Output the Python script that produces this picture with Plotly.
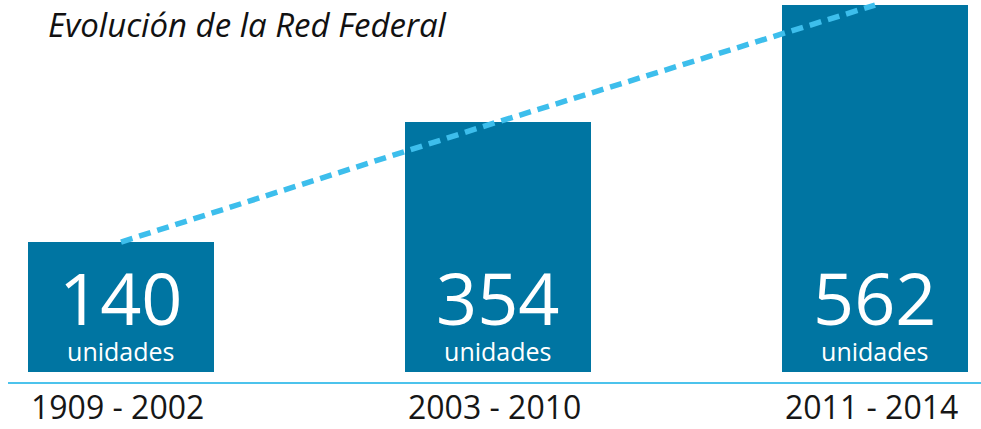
import plotly.graph_objects as go

# Data
periods = ["1909 - 2002", "2003 - 2010", "2011 - 2014"]
units = [140, 354, 562]
unit_label = "unidades"
title_text = "Evolución de la Red Federal"

BAR_COLOR = "#0075A2"
TREND_COLOR = "#3DBEEC"
AXIS_COLOR = "#4CC3EC"
BASE_VALUE = -91.5  # bars rise from this value on the y scale

x_pos = list(range(len(periods)))

fig = go.Figure()

fig.add_trace(go.Bar(
    x=x_pos,
    y=[v - BASE_VALUE for v in units],
    base=BASE_VALUE,
    width=0.493,
    marker=dict(color=BAR_COLOR, line=dict(width=0)),
    hoverinfo="skip",
    showlegend=False,
))

# Dashed growth line joining the top of each bar
fig.add_trace(go.Scatter(
    x=x_pos,
    y=units,
    mode="lines",
    line=dict(color=TREND_COLOR, width=5.5, dash="12px,7px"),
    hoverinfo="skip",
    showlegend=False,
))

annotations = []
for i, (p, v) in enumerate(zip(periods, units)):
    # value and unit stacked in one label inside the bar
    annotations.append(dict(
        x=i, y=0.283, xref="x", yref="paper",
        text=(f"<span style='font-size:72px'>{v}</span><br>"
              f"<span style='font-size:25px'>{unit_label}</span>"),
        showarrow=False, xanchor="center", yanchor="middle", borderpad=0,
        font=dict(family="Open Sans", size=28, color="white"),
    ))
    annotations.append(dict(
        x=i - 0.01, y=0.0, xref="x", yref="paper", text=p, showarrow=False,
        xanchor="center", yanchor="bottom", borderpad=0,
        font=dict(family="Open Sans", size=32, color="#161616"),
    ))

annotations.append(dict(
    x=46 / 981, y=0.942, xref="paper", yref="paper", text=title_text,
    showarrow=False, xanchor="left", yanchor="middle",
    font=dict(family="Open Sans", size=33, color="#111111", style="italic"),
))

fig.update_layout(
    width=981, height=429,
    margin=dict(l=0, r=0, t=0, b=0),
    paper_bgcolor="white", plot_bgcolor="white",
    xaxis=dict(range=[-0.321, 2.281], visible=False, fixedrange=True),
    yaxis=dict(range=[-193, 571], visible=False, fixedrange=True),
    annotations=annotations,
    shapes=[dict(
        type="line", xref="paper", yref="y",
        x0=8 / 981, x1=1, y0=-111, y1=-111,
        line=dict(color=AXIS_COLOR, width=2),
    )],
    bargap=0,
)

fig.write_html("out.html")
